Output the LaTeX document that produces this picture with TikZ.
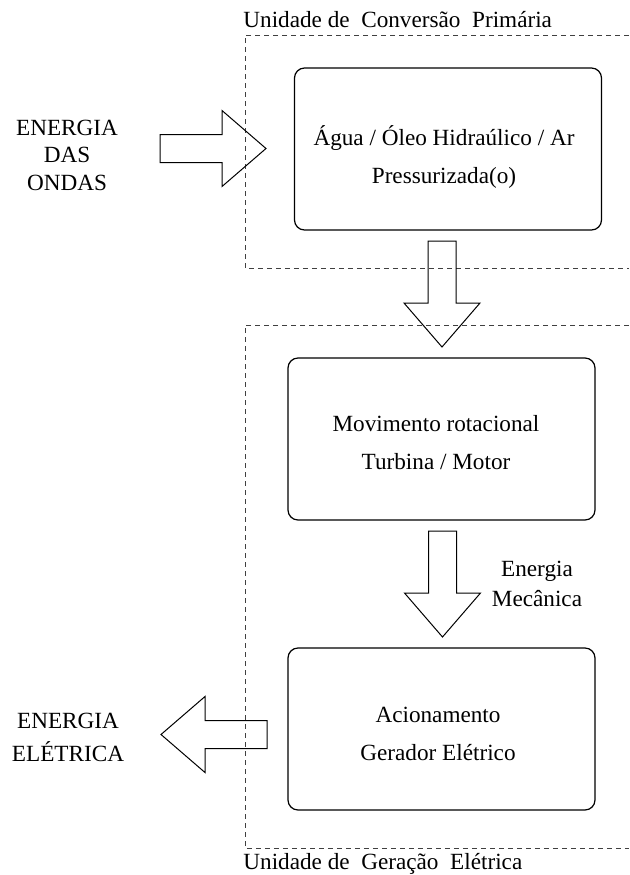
\documentclass[tikz,border=0pt]{standalone}
\usepackage{fontspec}
\setmainfont{Liberation Serif}
\usetikzlibrary{positioning}

% outline of a wide block arrow, tail at #1, turned by #2
\newcommand{\fatarrow}[2]{\draw[fat, shift={(#1)}, rotate=#2] (0,-14) -- (62,-14) -- (62,-38) -- (106,0) -- (62,38) -- (62,14) -- (0,14) -- cycle;}

\begin{document}
\begin{tikzpicture}[x=0.5pt, y=-0.5pt,
	box/.style = {draw, line width=0.6pt, rounded corners=5pt, minimum width=153.5pt, minimum height=81pt, inner sep=0pt},
	txt/.style = {align=center, inner sep=0pt, font=\fontsize{11.6}{#1}\selectfont},
	fat/.style = {draw, line width=0.5pt, line join=miter},
	unit/.style = {draw=black!75, line width=0.5pt, dash pattern=on 2.5pt off 2pt}]
	\useasboundingbox (0,0) rectangle (629,875);
	
	% dashed units
	\draw[unit] (629,35) -- (245,35) -- (245,268) -- (629,268);
	\draw[unit] (629,325) -- (245,325) -- (245,848) -- (629,848);
	\node[txt=14, anchor=west] (conv) at (243,20) {Unidade de\ \ Conversão\ \ Primária};
	\node[txt=14, anchor=west] (ger) at (243,864) {Unidade de\ \ Geração\ \ Elétrica};
	
	\node[box] (prim) at (448,149) {};
	\node[box] (rot) at (441.5,439) {};
	\node[box] (acio) at (441.5,729) {};
	\node[txt=19] (primtxt) at (444,157) {Água / Óleo Hidraúlico / Ar\\Pressurizada(o)};
	\node[txt=19] (rottxt) at (436,443) {Movimento rotacional\\Turbina / Motor};
	\node[txt=19] (aciotxt) at (438,734) {Acionamento\\Gerador Elétrico};
	
	\node[txt=13.75] (ondas) at (67,155) {ENERGIA\\DAS\\ONDAS};
	\node[txt=16.5] (elet) at (68,737) {ENERGIA\\ELÉTRICA};
	\node[txt=15] (mec) at (537,584) {Energia\\Mecânica};
	
	\coordinate (in) at (160,148.5);
	\coordinate (a1) at (442,241);
	\coordinate (a2) at (442.5,531);
	\coordinate (out) at (267,734.5);
	
	\fatarrow{in}{0}
	\fatarrow{a1}{-90}
	\fatarrow{a2}{-90}
	\fatarrow{out}{180}
\end{tikzpicture}
\end{document}
